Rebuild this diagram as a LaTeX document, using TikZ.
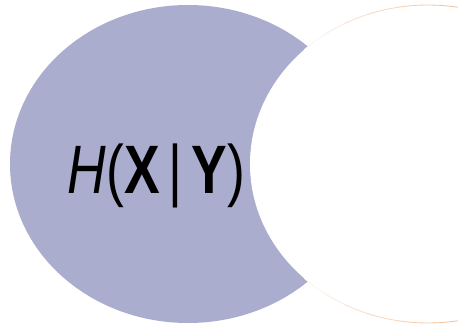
\documentclass[tikz,border=0pt]{standalone}
\usepackage{fontspec}
\setmainfont{Liberation Sans}
\usetikzlibrary{positioning,calc}
\definecolor{setX}{RGB}{170,173,205}
\definecolor{setYline}{RGB}{240,160,100}

\begin{document}
\begin{tikzpicture}[x=0.02cm, y=0.02cm, every node/.style={font=\fontsize{39}{42}\selectfont}]
    \useasboundingbox (0,0) rectangle (458,326);
    \clip (0,0) rectangle (458,326);
    % X circle, with the Y circle cut out of it
    \fill[setX] (188,162) ellipse (178 and 159);
    \fill[white] (428,162) ellipse (178 and 159);
    % faint outline of Y, fading towards the cusps
    \foreach \a/\b/\o in {76/90/60, 90/100/50, 100/110/40, 110/118/30, 118/126/20, 126/134/10} {
      \draw[setYline!\o, line width=0.5pt] ($(428,162)+(\a:178 and 159)$) arc[start angle=\a, end angle=\b, x radius=178, y radius=159];
      \draw[setYline!\o, line width=0.5pt] ($(428,162)+(-\a:178 and 159)$) arc[start angle=-\a, end angle=-\b, x radius=178, y radius=159];
    }
    \node[xscale=0.78, anchor=base, inner sep=0pt] (hxy) at (156.5,133) {{\itshape H}(\textbf{X}\,|\,\textbf{Y})};
\end{tikzpicture}
\end{document}
